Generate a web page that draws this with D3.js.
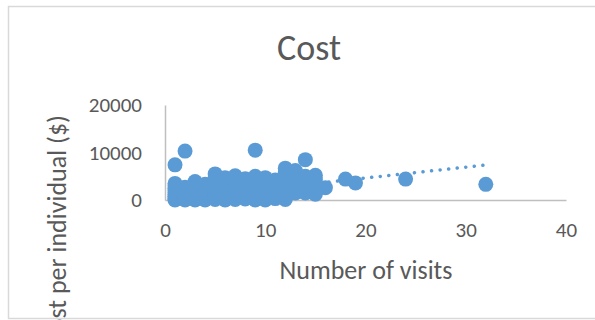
<!DOCTYPE html>
<html>
<head>
<meta charset="utf-8">
<script src="https://cdn.jsdelivr.net/npm/d3@7"></script>
<style>
  html, body { margin: 0; padding: 0; background: #fff; overflow: hidden; }
  text { font-family: Carlito, Lato, "Open Sans", sans-serif; fill: #595959; }
</style>
</head>
<body>
<div id="chart"></div>
<script>
// number of visits / cost per individual
const visits = [
  1,1,1,1,1,1,1,1,1,1,1,
  2,2,2,2,2,2,2,2,
  3,3,3,3,3,3,3,3,
  4,4,4,4,4,4,4,
  5,5,5,5,5,5,5,5,5,
  6,6,6,6,6,6,6,6,
  7,7,7,7,7,7,7,7,
  8,8,8,8,8,8,8,
  9,9,9,9,9,9,9,9,9,
  10,10,10,10,10,10,10,
  11,11,11,11,11,11,
  12,12,12,12,12,12,12,12,12,
  13,13,13,13,13,13,13,
  14,14,14,14,14,14,
  15,15,15,15,15,
  16, 18, 19, 24, 32
];
const cost = [
  0,200,500,800,1200,1600,2000,2500,3000,3500,7400,
  0,300,700,1100,1500,2000,2700,10300,
  0,400,900,1400,2000,2600,3200,3900,
  0,500,1000,1600,2200,2800,3300,
  100,600,1200,1800,2500,3200,4000,4800,5500,
  0,500,1100,1700,2400,3100,3800,4700,
  100,700,1300,2000,2700,3400,4200,5100,
  200,800,1400,2100,2800,3500,4500,
  0,600,1300,2000,2800,3600,4300,5000,10500,
  0,700,1400,2100,2900,3700,4700,
  300,1000,1700,2400,3200,4200,
  100,800,1600,2400,3200,4100,5000,5800,6700,
  1500,2200,3000,3800,4600,5400,6200,
  1500,2300,3100,4000,5000,8500,
  1200,2500,3500,4300,5200,
  2600, 4400, 3600, 4400, 3300
];
// linear trendline ends (visits, cost)
const trendX = [1, 32];
const trendY = [300, 7370];

const xTicks = [0, 10, 20, 30, 40];
const yTicks = [0, 10000, 20000];

const width = 595, height = 320;
const blue = '#5b9bd5';

let svg = d3.select('#chart').append('svg')
  .attr('width', width)
  .attr('height', height);

// chart border
svg.append('rect')
  .attr('x', 8.5).attr('y', 6.5)
  .attr('width', 620).attr('height', 312)
  .attr('fill', 'none')
  .attr('stroke', '#d9d9d9')
  .attr('stroke-width', 1.5);

let xScale = d3.scaleLinear().domain([0, 40]).range([165, 566]);
let yScale = d3.scaleLinear().domain([0, 20000]).range([200, 105]);

//x axis
let xAxis = svg.append('g')
  .attr('transform', `translate(0, ${yScale(0)})`)
  .call(d3.axisBottom(xScale).tickValues(xTicks).tickFormat(d3.format('d')).tickSize(0).tickPadding(22));
xAxis.select('.domain').attr('stroke', '#bfbfbf').attr('stroke-width', 1.5);
xAxis.selectAll('text').style('font-size', '21px').attr('fill', '#595959');

//y axis
let yAxis = svg.append('g')
  .attr('transform', `translate(${xScale(0)}, 0)`)
  .call(d3.axisLeft(yScale).tickValues(yTicks).tickFormat(d3.format('d')).tickSize(0).tickPadding(23));
yAxis.select('.domain').attr('stroke', '#bfbfbf').attr('stroke-width', 1.5);
yAxis.selectAll('text').style('font-size', '21px').attr('fill', '#595959');

// title
svg.append('text')
  .text('Cost')
  .attr('x', 309).attr('y', 60)
  .attr('text-anchor', 'middle')
  .style('font-size', '36px');

// axis titles
svg.append('text')
  .text('Number of visits')
  .attr('x', 366).attr('y', 279)
  .attr('text-anchor', 'middle')
  .style('font-size', '26px');

svg.append('text')
  .text('Cost per individual ($)')
  .attr('transform', 'translate(66, 115) rotate(-90)')
  .attr('text-anchor', 'end')
  .style('font-size', '26px');

// points
svg.append('g').selectAll('circle')
  .data(visits.map((v, i) => ({x: v, y: cost[i]})))
  .enter().append('circle')
  .attr('cx', d => xScale(d.x))
  .attr('cy', d => yScale(d.y))
  .attr('r', 7.5)
  .attr('fill', blue);

// trendline
svg.append('path')
  .datum(trendX.map((v, i) => [v, trendY[i]]))
  .attr('d', d3.line().x(d => xScale(d[0])).y(d => yScale(d[1])))
  .attr('fill', 'none')
  .attr('stroke', blue)
  .attr('stroke-width', 3.5)
  .attr('stroke-linecap', 'round')
  .attr('stroke-dasharray', '0.1 8.5');
</script>
</body>
</html>
